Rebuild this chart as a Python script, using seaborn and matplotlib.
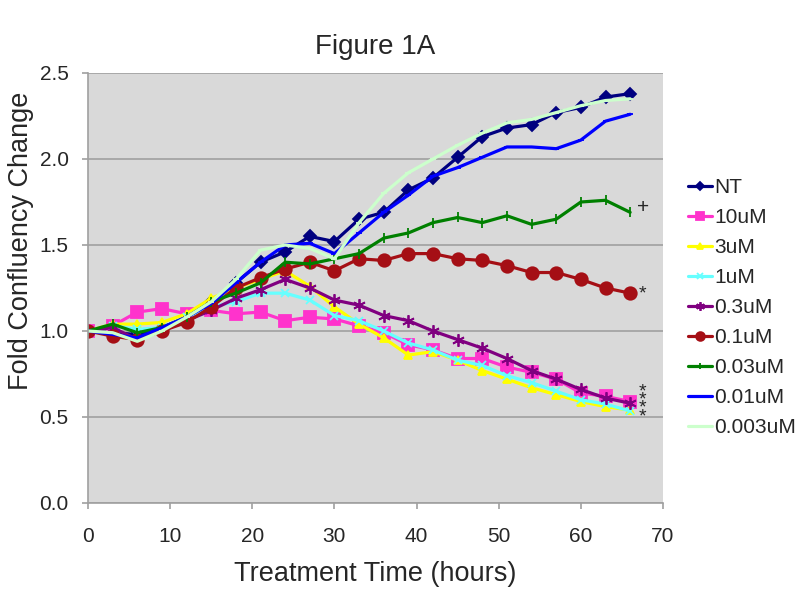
import numpy as np
import pandas as pd
import matplotlib
matplotlib.use("Agg")
import matplotlib.pyplot as plt
import seaborn as sns

# treatment time points (hours)
hours = [0, 3, 6, 9, 12, 15, 18, 21, 24, 27, 30, 33, 36, 39, 42, 45, 48, 51, 54, 57, 60, 63, 66]

# fold confluency change
nt = [1.00, 0.99, 0.98, 1.02, 1.08, 1.17, 1.28, 1.40, 1.46, 1.55, 1.52, 1.65, 1.69, 1.82, 1.89, 2.01, 2.13, 2.18, 2.20, 2.27, 2.30, 2.36, 2.38]
um_10 = [1.00, 1.03, 1.11, 1.13, 1.10, 1.12, 1.10, 1.11, 1.06, 1.08, 1.07, 1.03, 0.99, 0.92, 0.89, 0.84, 0.84, 0.79, 0.76, 0.72, 0.64, 0.62, 0.59]
um_3 = [1.00, 1.04, 1.04, 1.05, 1.10, 1.19, 1.25, 1.30, 1.35, 1.26, 1.14, 1.04, 0.96, 0.86, 0.88, 0.83, 0.77, 0.72, 0.67, 0.63, 0.59, 0.56, 0.54]
um_1 = [1.00, 1.03, 1.01, 1.02, 1.08, 1.14, 1.17, 1.22, 1.22, 1.18, 1.09, 1.06, 1.00, 0.93, 0.89, 0.83, 0.80, 0.74, 0.70, 0.65, 0.60, 0.575, 0.535]
um_03 = [1.00, 1.02, 0.95, 1.00, 1.06, 1.12, 1.19, 1.24, 1.30, 1.25, 1.18, 1.15, 1.09, 1.06, 1.00, 0.95, 0.90, 0.84, 0.77, 0.72, 0.66, 0.61, 0.58]
um_01 = [1.00, 0.97, 0.95, 1.00, 1.05, 1.14, 1.25, 1.31, 1.36, 1.40, 1.35, 1.42, 1.41, 1.45, 1.45, 1.42, 1.41, 1.38, 1.34, 1.34, 1.30, 1.25, 1.22]
um_003 = [1.00, 1.04, 0.99, 1.02, 1.08, 1.17, 1.22, 1.28, 1.40, 1.39, 1.42, 1.45, 1.54, 1.57, 1.63, 1.66, 1.63, 1.67, 1.62, 1.65, 1.75, 1.76, 1.69]
um_001 = [1.00, 0.98, 0.96, 1.02, 1.08, 1.16, 1.28, 1.40, 1.50, 1.51, 1.45, 1.57, 1.69, 1.79, 1.90, 1.95, 2.01, 2.07, 2.07, 2.06, 2.11, 2.22, 2.26]
um_0003 = [1.00, 0.99, 0.94, 1.00, 1.08, 1.17, 1.30, 1.47, 1.50, 1.48, 1.42, 1.63, 1.80, 1.92, 2.00, 2.08, 2.15, 2.21, 2.23, 2.27, 2.31, 2.34, 2.35]

labels = ["NT", "10uM", "3uM", "1uM", "0.3uM", "0.1uM", "0.03uM", "0.01uM", "0.003uM"]
series = [nt, um_10, um_3, um_1, um_03, um_01, um_003, um_001, um_0003]

# style for each series: color, marker, marker size
styles = [
    ("#000080", "D", 6),
    ("#FF33CC", "s", 8),
    ("#FFFF00", "^", 6),
    ("#66FFFF", "x", 6),
    ("#800080", (6, 2, 0), 9),
    ("#A50F15", "o", 9),
    ("#008000", "|", 7),
    ("#0000FF", "_", 5),
    ("#CCFFCC", "_", 5),
]

sns.set_style("white")
plt.rcParams["font.family"] = ["Liberation Sans", "DejaVu Sans"]

fig = plt.figure(figsize=(8, 5.92), dpi=100)
ax = fig.add_axes([88 / 800, 1 - 503 / 592, 575 / 800, 430 / 592])
ax.set_facecolor("#D9D9D9")

for lab, vals, (col, mk, ms) in zip(labels, series, styles):
    sns.lineplot(x=hours, y=vals, ax=ax, color=col, linewidth=2.3, marker=mk,
                 markersize=ms, markeredgecolor=col, markerfacecolor=col,
                 markeredgewidth=1.3, label=lab)

ax.set_xlim(0, 70)
ax.set_ylim(0, 2.5)
ax.set_xticks(range(0, 71, 10))
ax.set_yticks(np.arange(0, 2.51, 0.5))
ax.set_yticklabels(["%.1f" % v for v in np.arange(0, 2.51, 0.5)])
ax.grid(axis="y", color="#A0A0A0", linewidth=1.2)
ax.set_axisbelow(True)
for s in ["top", "right"]:
    ax.spines[s].set_visible(False)
for s in ["left", "bottom"]:
    ax.spines[s].set_color("#A0A0A0")
    ax.spines[s].set_linewidth(1.2)
ax.tick_params(axis="both", which="major", labelsize=15, length=4, width=1.2,
               color="#A0A0A0", direction="out")
ax.tick_params(axis="x", pad=13, bottom=True)
ax.tick_params(axis="y", pad=10, left=True)

ax.set_title("Figure 1A", fontsize=20, pad=14)
ax.set_xlabel("Treatment Time (hours)", fontsize=19.5)
ax.set_ylabel("Fold Confluency Change", fontsize=19.5)
ax.xaxis.set_label_coords(0.5, -0.135)
ax.yaxis.set_label_coords(-0.094, 0.61)

# significance marks at the ends of the series
ax.text(66.8, 1.72, "+", fontsize=15, ha="left", va="center", clip_on=False)
ax.text(67.0, 1.19, "*", fontsize=14, ha="left", va="baseline", clip_on=False)
ax.text(67.0, 0.575, "*\n*\n*\n*", fontsize=14, ha="left", va="center",
        linespacing=0.34, clip_on=False)

ax.legend(loc="upper left", bbox_to_anchor=(688 / 800, 1 - 178 / 592),
          bbox_transform=fig.transFigure, frameon=False, fontsize=15,
          handlelength=1.15, handletextpad=0.1, labelspacing=0.53,
          borderpad=0, borderaxespad=0, markerscale=0.7)

fig.savefig("out.png", dpi=100)
